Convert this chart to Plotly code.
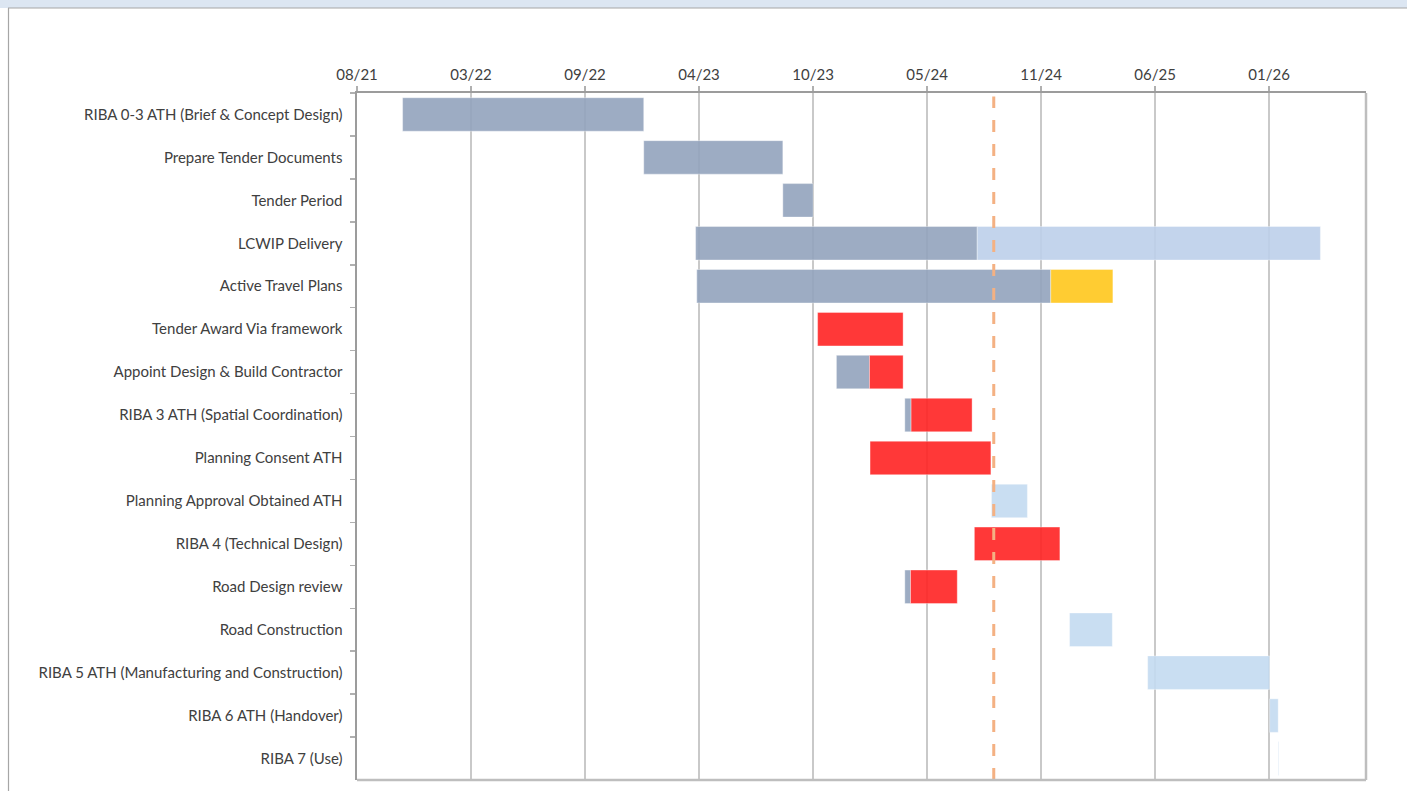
import plotly.graph_objects as go
from datetime import date, timedelta

# ---------------- data ----------------
tasks = [
    "RIBA 0-3 ATH (Brief & Concept Design)",
    "Prepare Tender Documents",
    "Tender Period",
    "LCWIP Delivery",
    "Active Travel Plans",
    "Tender Award Via framework",
    "Appoint Design & Build Contractor",
    "RIBA 3 ATH (Spatial Coordination)",
    "Planning Consent ATH",
    "Planning Approval Obtained ATH",
    "RIBA 4 (Technical Design)",
    "Road Design review",
    "Road Construction",
    "RIBA 5 ATH (Manufacturing and Construction)",
    "RIBA 6 ATH (Handover)",
    "RIBA 7 (Use)",
]

# completed (grey-blue)
done_tasks = ["RIBA 0-3 ATH (Brief & Concept Design)", "Prepare Tender Documents", "Tender Period",
              "LCWIP Delivery", "Active Travel Plans", "Appoint Design & Build Contractor",
              "RIBA 3 ATH (Spatial Coordination)", "Road Design review"]
done_start = ["2021-11-04", "2023-01-01", "2023-09-02", "2023-04-02", "2023-04-04", "2023-12-05",
              "2024-04-03", "2024-04-03"]
done_end = ["2023-01-01", "2023-09-02", "2023-10-25", "2024-08-08", "2024-12-15", "2024-02-01",
            "2024-04-14", "2024-04-13"]

# overdue (red)
late_tasks = ["Tender Award Via framework", "Appoint Design & Build Contractor",
              "RIBA 3 ATH (Spatial Coordination)", "Planning Consent ATH",
              "RIBA 4 (Technical Design)", "Road Design review"]
late_start = ["2023-11-02", "2024-02-01", "2024-04-14", "2024-02-02", "2024-08-03", "2024-04-13"]
late_end = ["2024-03-31", "2024-03-31", "2024-07-30", "2024-09-01", "2024-12-31", "2024-07-04"]

# at risk (amber)
risk_tasks = ["Active Travel Plans"]
risk_start = ["2024-12-15"]
risk_end = ["2025-04-03"]

# remaining LCWIP (light blue)
remain_tasks = ["LCWIP Delivery"]
remain_start = ["2024-08-08"]
remain_end = ["2026-04-02"]

# future (pale blue)
future_tasks = ["Planning Approval Obtained ATH", "Road Construction",
                "RIBA 5 ATH (Manufacturing and Construction)", "RIBA 6 ATH (Handover)", "RIBA 7 (Use)"]
future_start = ["2024-09-02", "2025-01-17", "2025-06-03", "2026-01-03", "2026-01-18"]
future_end = ["2024-11-04", "2025-04-02", "2026-01-03", "2026-01-18", "2026-01-19"]

today = "2024-09-06"

tick_labels = ["08/21", "03/22", "09/22", "04/23", "10/23", "05/24", "11/24", "06/25", "01/26"]
axis_start = "2021-08-16"
axis_end = "2026-06-21"
tick_step_days = 200

# ---------------- helpers ----------------
def d(s):
    return date.fromisoformat(s)

def dur_ms(starts, ends):
    return [(d(e) - d(s)).days * 86400000 for s, e in zip(starts, ends)]

tickvals = [(d(axis_start) + timedelta(days=tick_step_days * i)).isoformat() for i in range(len(tick_labels))]

fig = go.Figure()

def add(name, ys, starts, ends, color):
    fig.add_trace(go.Bar(
        y=ys, base=starts, x=dur_ms(starts, ends), orientation="h", name=name,
        marker=dict(color=color, line=dict(width=0.6, color="rgba(255,255,255,0.6)")),
        width=0.78, showlegend=False, hoverinfo="skip",
    ))

add("Done", done_tasks, done_start, done_end, "rgba(146,163,188,0.9)")
add("Remaining", remain_tasks, remain_start, remain_end, "rgba(189,207,234,0.9)")
add("Overdue", late_tasks, late_start, late_end, "rgba(255,34,34,0.9)")
add("At risk", risk_tasks, risk_start, risk_end, "rgba(255,198,28,0.9)")
add("Future", future_tasks, future_start, future_end, "rgba(195,218,241,0.9)")

W, H = 1407, 791
L, R, T, B = 357, 41, 93, 11
pw, ph = W - L - R, H - T - B

def px_x(x):
    return (x - L) / pw

def px_y(y):
    return (H - B - y) / ph

# today line
fig.add_shape(type="line", xref="x", yref="paper", x0=today, x1=today, y0=0, y1=0.995,
              line=dict(color="#F4B183", width=3, dash="12px,12px"), layer="above")

# right / bottom frame in a lighter grey
fig.add_shape(type="line", xref="paper", yref="paper", x0=1, x1=1, y0=0, y1=1,
              line=dict(color="#BEBEBE", width=2.5), layer="above")
fig.add_shape(type="line", xref="paper", yref="paper", x0=0, x1=1, y0=0, y1=0,
              line=dict(color="#BEBEBE", width=2.5), layer="above")

# header band and page frame
fig.add_shape(type="rect", xref="paper", yref="paper", x0=px_x(-5), x1=px_x(W + 5),
              y0=px_y(8), y1=px_y(-5), fillcolor="#DCE6F2", line=dict(width=0), layer="above")
fig.add_shape(type="line", xref="paper", yref="paper", x0=px_x(8), x1=px_x(W + 5),
              y0=px_y(8), y1=px_y(8), line=dict(color="#A6A6A6", width=1.2), layer="above")
fig.add_shape(type="line", xref="paper", yref="paper", x0=px_x(8.5), x1=px_x(8.5),
              y0=px_y(8), y1=px_y(H + 5), line=dict(color="#A6A6A6", width=1.2), layer="above")

font_family = "Lato, 'Noto Sans', sans-serif"

fig.update_layout(
    width=W, height=H,
    margin=dict(l=L, r=R, t=T, b=B, pad=0),
    paper_bgcolor="white", plot_bgcolor="white",
    barmode="overlay",
    font=dict(family=font_family, size=15, color="#404040"),
    xaxis=dict(
        type="date", side="top", range=[axis_start, axis_end],
        tickvals=tickvals, ticktext=tick_labels,
        showgrid=True, gridcolor="#C9C9C9", gridwidth=1.5,
        showline=True, linecolor="#9C9C9C", linewidth=2.5,
        ticks="outside", ticklen=5, tickcolor="#B0B0B0", tickwidth=1.5,
        tickfont=dict(size=15, color="#404040"),
        zeroline=False,
    ),
    yaxis=dict(
        type="category", categoryorder="array", categoryarray=tasks,
        autorange="reversed",
        showgrid=False, showline=True, linecolor="#9C9C9C", linewidth=2.5,
        ticks="outside", ticklen=5, tickcolor="#B0B0B0", tickwidth=1.5, tickson="boundaries",
        tickfont=dict(size=15, color="#404040"), ticklabelstandoff=9,
        zeroline=False,
    ),
)

fig.write_html("out.html", config={"displayModeBar": False, "staticPlot": True},
               post_script="document.body.style.margin='0';document.body.style.overflow='hidden';")
